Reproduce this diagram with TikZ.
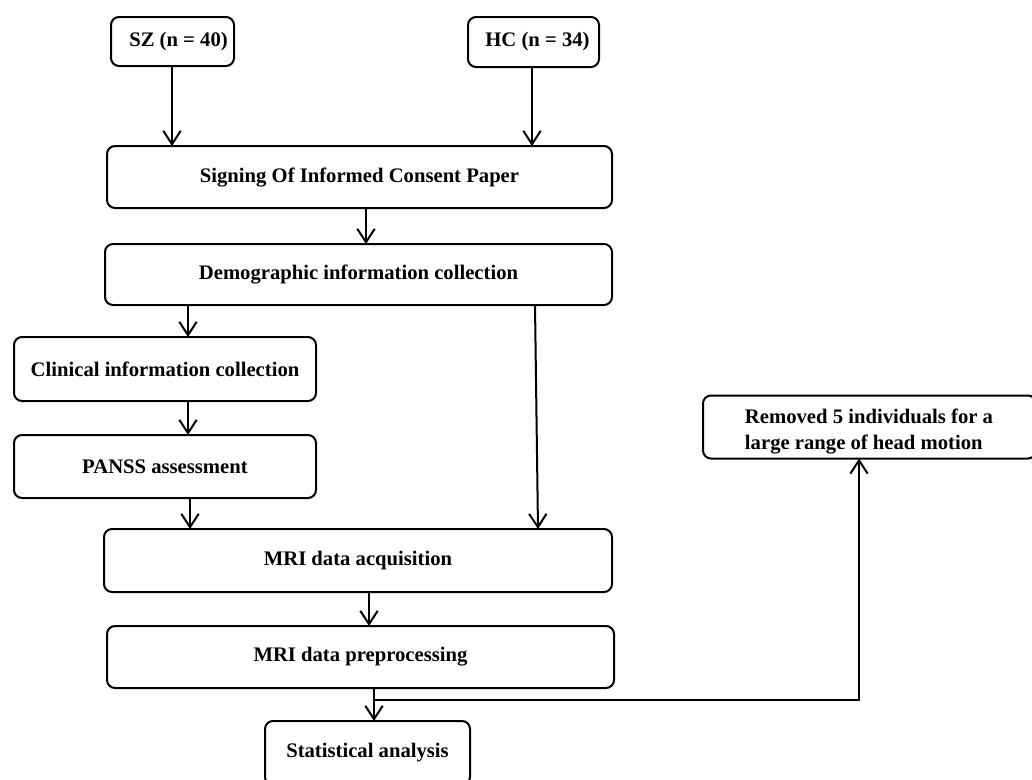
\documentclass[tikz,border=0pt]{standalone}
\usepackage{fontspec}
\setmainfont{Liberation Serif}
\usetikzlibrary{arrows.meta}
\tikzset{
  box/.style={draw, line width=1.5pt, rounded corners=6pt, inner sep=0pt, outer sep=0pt,
    font=\fontsize{15.5pt}{19.5pt}\selectfont\bfseries},
  plain/.style={inner sep=0pt, outer sep=0pt, font=\fontsize{15.5pt}{19.5pt}\selectfont\bfseries},
  arr/.style={line width=1.5pt, -{Straight Barb[length=10pt,width=13pt,line width=1.5pt]}},
  ln/.style={line width=1.5pt}
}
\begin{document}
\begin{tikzpicture}[x=0.75pt,y=-0.75pt]
\clip (0,0) rectangle (1032,779);
\node[box, minimum width=92.25pt, minimum height=36.75pt] (sz) at (172.5,41.5) {\hspace*{9pt}SZ (n = 40)};
\node[box, minimum width=98.25pt, minimum height=37.5pt] (hc) at (533.5,42) {\hspace*{6pt}HC (n = 34)};
\node[box, minimum width=378.75pt, minimum height=46.5pt] (sign) at (359.5,177) {Signing Of Informed Consent Paper};
\node[box, minimum width=380.25pt, minimum height=45.75pt] (demo) at (358.5,274.5) {Demographic information collection};
\node[box, minimum width=226.5pt, minimum height=48pt] (clin) at (165,369) {Clinical information collection};
\node[box, minimum width=226.5pt, minimum height=47.25pt] (panss) at (165,466.5) {PANSS assessment};
\node[box, minimum width=381pt, minimum height=47.25pt] (acq) at (358,560.5) {MRI data acquisition};
\node[box, minimum width=380.25pt, minimum height=46.5pt] (pre) at (360.5,657) {MRI data preprocessing};
\node[box, minimum width=153.75pt, minimum height=48pt] (stat) at (367.5,753) {Statistical analysis};
\node[box, minimum width=249.75pt, minimum height=47.25pt] (rem) at (869.5,427) {};
\node[plain, align=left] (remtxt) at (869,431) {Removed 5 individuals for a\\large range of head motion};

\coordinate (c172) at (172,0);
\coordinate (c532) at (532,0);
\coordinate (c366) at (366,0);
\coordinate (c188) at (188,0);
\coordinate (c190) at (190,0);
\coordinate (d1) at (535,0);
\coordinate (d2) at (538,0);
\coordinate (c369) at (369,0);
\coordinate (c374) at (374,0);
\coordinate (br) at (374,700);
\coordinate (c859) at (859,700);

\draw[arr] (sz.south -| c172) -- (sign.north -| c172);
\draw[arr] (hc.south -| c532) -- (sign.north -| c532);
\draw[arr] (sign.south -| c366) -- (demo.north -| c366);
\draw[arr] (demo.south -| c188) -- (clin.north -| c188);
\draw[arr] (demo.south -| d1) -- (acq.north -| d2);
\draw[arr] (clin.south -| c188) -- (panss.north -| c188);
\draw[arr] (panss.south -| c190) -- (acq.north -| c190);
\draw[arr] (acq.south -| c369) -- (pre.north -| c369);
\draw[arr] (pre.south -| c374) -- (stat.north -| c374);
\draw[arr] (br) -- (c859) -- (rem.south -| c859);
\end{tikzpicture}
\end{document}
